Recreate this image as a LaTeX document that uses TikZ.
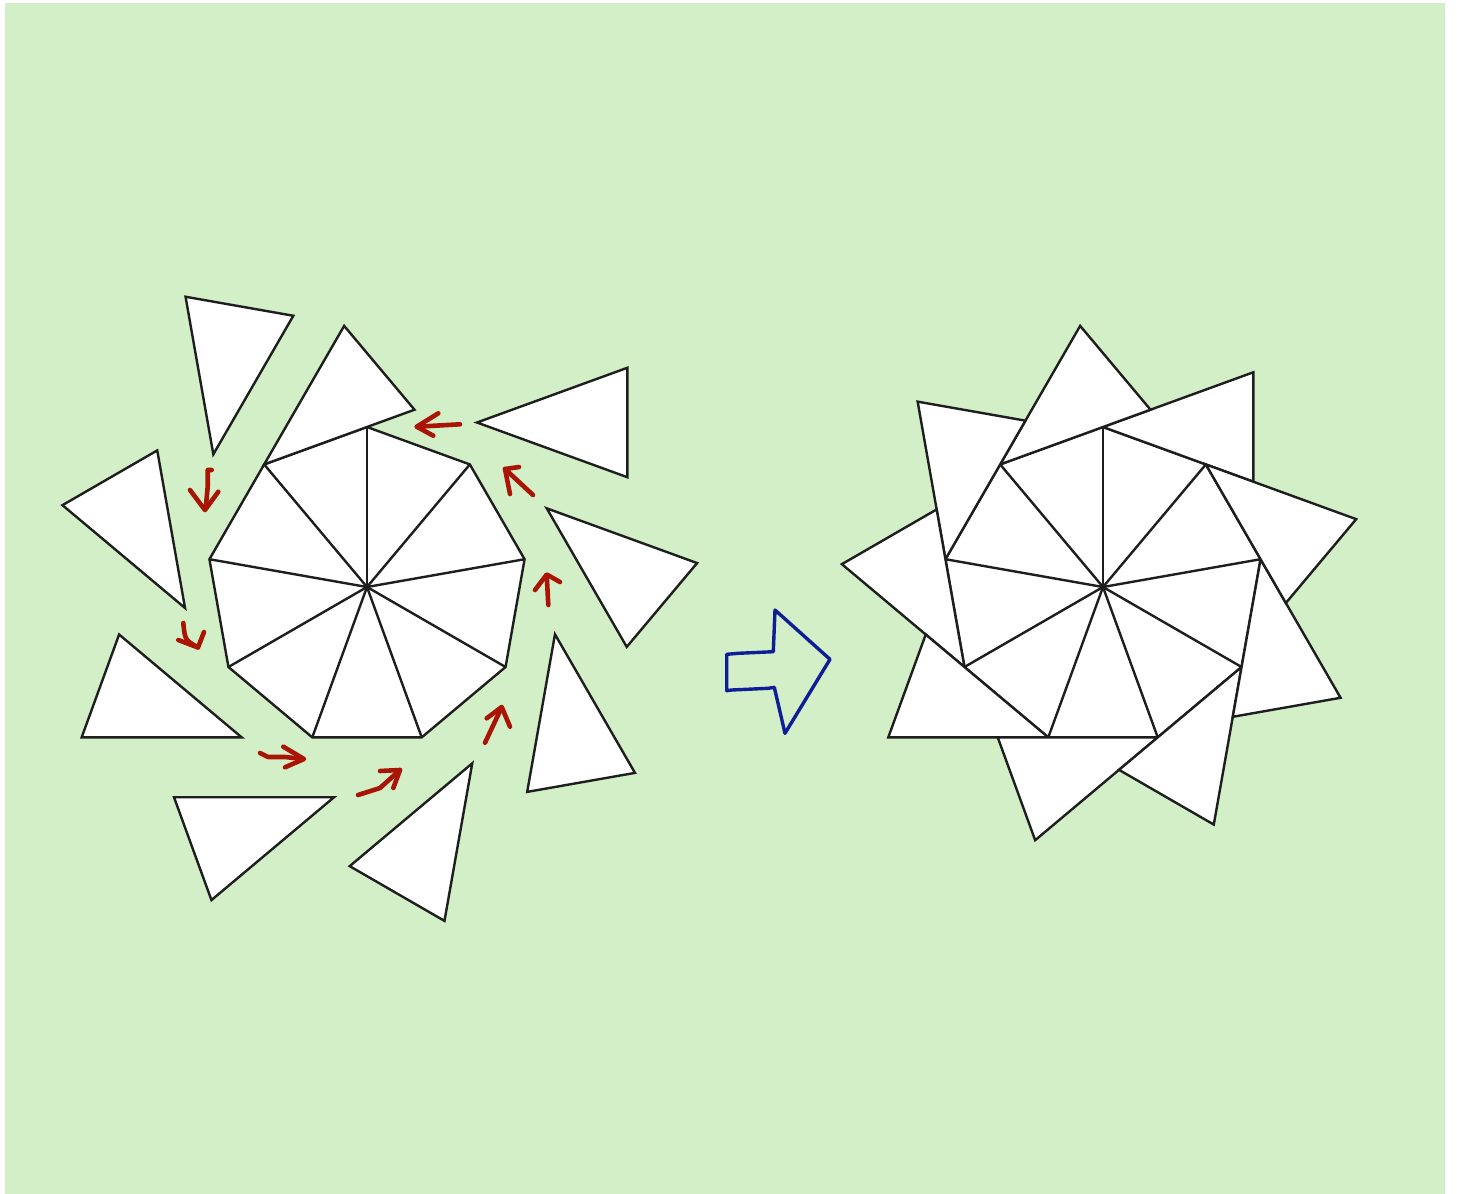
\documentclass[tikz,border=0pt]{standalone}
\definecolor{bg}{RGB}{210,239,199}
\definecolor{redarrow}{RGB}{170,20,5}
\definecolor{bluearrow}{RGB}{15,30,150}
\definecolor{edgecol}{RGB}{30,30,30}
\tikzset{
  piece/.style={fill=white, draw=edgecol, line width=1.2pt, line join=miter},
  spoke/.style={draw=edgecol, line width=1.2pt},
  redarr/.style={draw=redarrow, line width=2.3pt, line cap=round, line join=round},
  bluearr/.style={draw=bluearrow, line width=1.7pt, line join=round}
}
\begin{document}
\begin{tikzpicture}[x=0.5pt,y=-0.5pt]
\useasboundingbox (0,0) rectangle (1457,1194);
\fill[white] (0,0) rectangle (1457,1194);
\fill[bg] (5,3) rectangle (1445,1194);

% nonagons with spokes
\foreach \cx in {367,1103}{
  \draw[piece] ({\cx+160*cos(90)},{587-160*sin(90)})
    \foreach \i in {1,...,8}{ -- ({\cx+160*cos(90+40*\i)},{587-160*sin(90+40*\i)}) } -- cycle;
  \foreach \i in {0,...,8}{
    \draw[spoke] (\cx,587) -- ({\cx+160*cos(90+40*\i)},{587-160*sin(90+40*\i)});
  }
}

% right figure: outer triangles in place
\foreach \k in {0,...,8}{
  \pgfmathsetmacro\vx{1103+160*cos(90+40*\k)}
  \pgfmathsetmacro\vy{587-160*sin(90+40*\k)}
  \draw[piece] (\vx,\vy) -- ({\vx+160*cos(40*\k-20)},{\vy-160*sin(40*\k-20)})
    -- ({\vx+160*cos(40*\k+20)},{\vy-160*sin(40*\k+20)}) -- cycle;
}

% left figure: outer triangles displaced
\foreach \k/\dx/\dy in {0/110/-4.5, 1/0/0, 2/3.9/-104.9, 3/-43.4/-59, 4/-70.6/0, 5/-87.7/59.9, 6/-33.3/96.3, 7/30.4/75.1, 8/76.9/43.9}{
  \pgfmathsetmacro\vx{367+\dx+160*cos(90+40*\k)}
  \pgfmathsetmacro\vy{587+\dy-160*sin(90+40*\k)}
  \draw[piece] (\vx,\vy) -- ({\vx+160*cos(40*\k-20)},{\vy-160*sin(40*\k-20)})
    -- ({\vx+160*cos(40*\k+20)},{\vy-160*sin(40*\k+20)}) -- cycle;
}

% red arrows
\draw[redarr] (460,424.3) -- (417,426.7);
\draw[redarr] (438.3,413.3) -- (416.7,426.7) -- (433.3,435.7);
\draw[redarr] (533,495) -- (505,469);
\draw[redarr] (519,467) -- (505,469) -- (510,494);
\draw[redarr] (548.3,605) -- (546.7,575);
\draw[redarr] (535,590) -- (546.7,574.5) -- (560,582);
\draw[redarr] (485,742.7) -- (501.7,707.3);
\draw[redarr] (486.7,718.3) -- (501.7,707) -- (510,726.7);
\draw[redarr] (358,795) -- (380,788) -- (400,770);
\draw[redarr] (380,771) -- (400,770) -- (393.3,788);
\draw[redarr] (260,753) -- (268,757) -- (285,757) -- (303,759);
\draw[redarr] (283.3,746.7) -- (304,759) -- (285,767.3);
\draw[redarr] (183.3,623) .. controls (185,640) .. (197.7,647.3);
\draw[redarr] (178.3,640) -- (198,647.5) -- (204,632);
\draw[redarr] (211.7,470) -- (207.7,470) -- (207.7,486.7) -- (205.7,508.3);
\draw[redarr] (190,490) -- (205,510) -- (218.3,491.7);

% blue block arrow
\draw[bluearr] (726.7,654.3) -- (738.3,653.3) -- (773.3,651.7) -- (775,610) -- (830,659.3)
  -- (785,733.3) -- (774.3,687.3) -- (768.3,688.3) -- (731.7,690) -- (726.7,690.7) -- cycle;
\end{tikzpicture}
\end{document}
